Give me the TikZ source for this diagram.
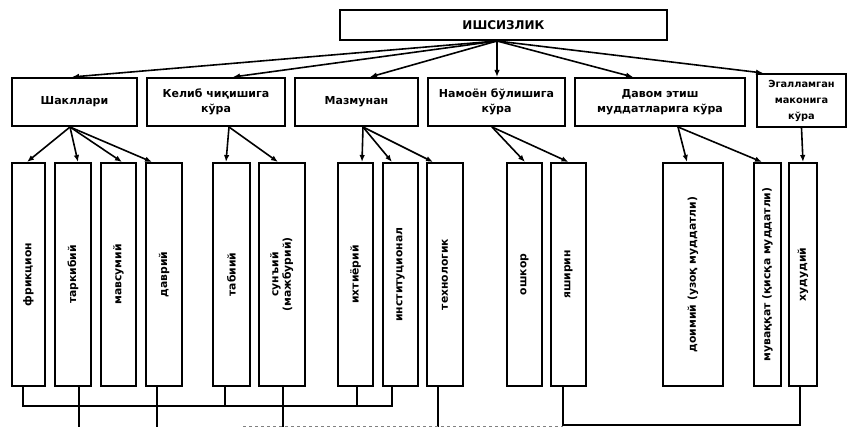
\documentclass[tikz,border=0pt]{standalone}
\usepackage{fontspec}
\setmainfont{DejaVu Sans}
\usetikzlibrary{arrows.meta}
\newcommand{\vtxt}[1]{\rotatebox{90}{#1}}
\begin{document}
\begin{tikzpicture}[x=1pt,y=-1pt,
  box/.style={draw, line width=2pt, inner sep=2pt, align=center,
              font=\bfseries\fontsize{11}{15}\selectfont},
  tall/.style={draw, line width=2pt, inner sep=0pt, minimum height=223pt,
              font=\bfseries\fontsize{10.8}{12.5}\selectfont},
  arr/.style={-{Latex[length=7pt,width=5.5pt]}, line width=1.6pt},
  ln/.style={line width=1.8pt}]
\useasboundingbox (0,0) rectangle (848,427);

% top
\node[box, minimum width=327pt, minimum height=30pt,
      font=\bfseries\fontsize{12}{14}\selectfont] (top) at (503.5,25) {ИШСИЗЛИК};

% second row
\node[box, minimum width=125pt, minimum height=48pt] (b1) at (74.5,102) {Шакллари};
\node[box, minimum width=138pt, minimum height=48pt] (b2) at (216,102) {Келиб чиқишига\\кўра};
\node[box, minimum width=123pt, minimum height=48pt] (b3) at (356.5,102) {Мазмунан};
\node[box, minimum width=137pt, minimum height=48pt] (b4) at (496.5,102) {Намоён бўлишига\\кўра};
\node[box, minimum width=170pt, minimum height=48pt] (b5) at (660,102) {Давом этиш\\муддатларига кўра};
\node[box, minimum width=89pt, minimum height=53pt,
      font=\bfseries\fontsize{9.8}{16}\selectfont] (b6) at (801.5,100.5) {Эгалламган\\маконига\\кўра};

% third row
\node[tall, minimum width=33pt] (t1) at (28.5,274.5) {\vtxt{фрикцион}};
\node[tall, minimum width=36pt] (t2) at (73,274.5) {\vtxt{таркибий}};
\node[tall, minimum width=35pt] (t3) at (118.5,274.5) {\vtxt{мавсумий}};
\node[tall, minimum width=36pt] (t4) at (164,274.5) {\vtxt{даврий}};
\node[tall, minimum width=37pt] (t5) at (231.5,274.5) {\vtxt{табиий}};
\node[tall, minimum width=46pt] (t6) at (282,274.5) {\vtxt{\begin{tabular}{@{}c@{}}сунъий\\(мажбурий)\end{tabular}}};
\node[tall, minimum width=35pt] (t7) at (355.5,274.5) {\vtxt{ихтиёрий}};
\node[tall, minimum width=35pt] (t8) at (400.5,274.5) {\vtxt{институционал}};
\node[tall, minimum width=36pt] (t9) at (445,274.5) {\vtxt{технологик}};
\node[tall, minimum width=35pt] (t10) at (524.5,274.5) {\vtxt{ошкор}};
\node[tall, minimum width=35pt] (t11) at (568.5,274.5) {\vtxt{яширин}};
\node[tall, minimum width=60pt] (t12) at (693,274.5) {\vtxt{доимий (узоқ муддатли)}};
\node[tall, minimum width=27pt] (t13) at (767.5,274.5) {\vtxt{муваққат (қисқа муддатли)}};
\node[tall, minimum width=28pt] (t14) at (803,274.5) {\vtxt{худудий}};

% arrows from top
\draw[arr] ([xshift=-6.5pt]top.south) -- ([xshift=-2.5pt]b1.north);
\draw[arr] ([xshift=-6.5pt]top.south) -- ([xshift=17pt]b2.north);
\draw[arr] ([xshift=-6.5pt]top.south) -- ([xshift=13.5pt]b3.north);
\draw[arr] ([xshift=-6.5pt]top.south) -- ([xshift=0.5pt]b4.north);
\draw[arr] ([xshift=-6.5pt]top.south) -- ([xshift=-27pt]b5.north);
\draw[arr] ([xshift=-6.5pt]top.south) -- ([xshift=-38.5pt]b6.north);

% arrows second to third row
\draw[arr] ([xshift=-4.5pt]b1.south) -- ([xshift=-1.5pt]t1.north);
\draw[arr] ([xshift=-4.5pt]b1.south) -- ([xshift=5pt]t2.north);
\draw[arr] ([xshift=-4.5pt]b1.south) -- ([xshift=3.5pt]t3.north);
\draw[arr] ([xshift=-4.5pt]b1.south) -- ([xshift=-12pt]t4.north);
\draw[arr] ([xshift=13pt]b2.south) -- ([xshift=-5.5pt]t5.north);
\draw[arr] ([xshift=13pt]b2.south) -- ([xshift=-4pt]t6.north);
\draw[arr] ([xshift=6.5pt]b3.south) -- ([xshift=6.5pt]t7.north);
\draw[arr] ([xshift=6.5pt]b3.south) -- ([xshift=-8.5pt]t8.north);
\draw[arr] ([xshift=6.5pt]b3.south) -- ([xshift=-12pt]t9.north);
\draw[arr] ([xshift=-4.5pt]b4.south) -- ([xshift=0.5pt]t10.north);
\draw[arr] ([xshift=-4.5pt]b4.south) -- (t11.north);
\draw[arr] ([xshift=18pt]b5.south) -- ([xshift=-6pt]t12.north);
\draw[arr] ([xshift=18pt]b5.south) -- ([xshift=-5.5pt]t13.north);
\draw[arr] (b6.south) -- (t14.north);

% bottom connectors
\coordinate (busy) at (0,406);
\coordinate (boty) at (0,425);
\coordinate (edge) at (0,429);
\coordinate (fa) at (243,426);
\coordinate (c1) at ([xshift=-5.5pt]t1.south);
\coordinate (c2) at ([xshift=6pt]t2.south);
\coordinate (c4) at ([xshift=-7pt]t4.south);
\coordinate (c5) at ([xshift=-6.5pt]t5.south);
\coordinate (c6) at ([xshift=1pt]t6.south);
\coordinate (c7) at ([xshift=1.5pt]t7.south);
\coordinate (c8) at ([xshift=-8.5pt]t8.south);
\coordinate (c9) at ([xshift=-7pt]t9.south);
\coordinate (c11) at ([xshift=-5.5pt]t11.south);
\coordinate (c14) at ([xshift=-3pt]t14.south);

\draw[ln] (c1) |- (c8 |- busy) -- (c8);
\draw[ln] (c5) -- (c5 |- busy);
\draw[ln] (c7) -- (c7 |- busy);
\draw[ln] (c2) -- (c2 |- edge);
\draw[ln] (c4) -- (c4 |- edge);
\draw[ln] (c6) -- (c6 |- edge);
\draw[ln] (c9) -- (c9 |- edge);
\draw[ln] (c11) |- (c14 |- boty) -- (c14);
\draw[gray, dashed, line width=0.8pt] (fa) -- (c11 |- fa);
\end{tikzpicture}
\end{document}
